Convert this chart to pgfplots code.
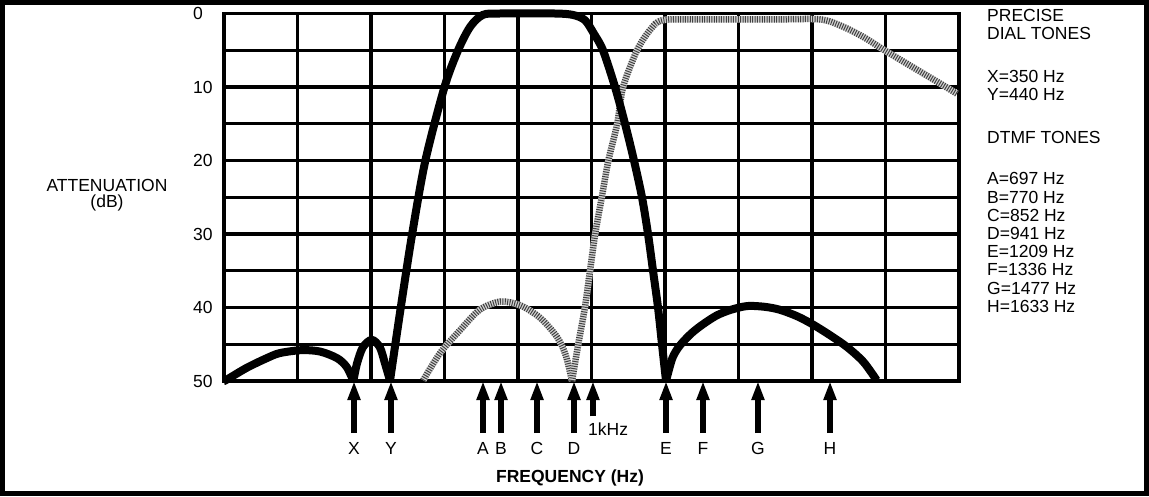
\documentclass[border=0pt]{standalone}
\usepackage{pgfplots}
\pgfplotsset{compat=1.18}
\usepackage{pgfplotstable}
\usepackage{fontspec}
\setmainfont{Liberation Sans}
\usetikzlibrary{arrows.meta}

\newcommand\lbl{\fontsize{17.5}{18}\selectfont}

% black filter curve, split at the notches
\pgfplotstableread{
x y
0.00 50
0.04 49.8
0.31 48.2
0.58 46.9
0.76 46.2
1.06 45.8
1.31 46.0
1.54 46.9
1.67 48.1
1.76 50
}\lobeA
\pgfplotstableread{
x y
1.76 50
1.81 47.6
1.89 45.4
2.01 44.4
2.12 45.4
2.19 47.6
2.26 50
}\lobeB
\pgfplotstableread{
x y
2.258 50
2.405 40
2.560 30
2.740 20
3.000 10
3.185 5
3.350 1.8
3.52 0.2
3.75 0
4.50 0
4.75 0.2
4.91 0.9
5.03 2.7
5.156 5
5.320 10
5.456 15
5.578 20
5.687 25
5.769 30
5.837 35
5.905 40
5.959 45
6.014 50
}\mainlobe
\pgfplotstableread{
x y
6.014 50
6.10 46.9
6.20 45.2
6.35 43.6
6.50 42.4
6.70 41.1
6.90 40.3
7.12 39.8
7.35 39.9
7.56 40.3
7.80 41.2
8.01 42.3
8.25 43.8
8.48 45.4
8.70 47.4
8.88 49.9
}\lobeC

% hatched curve
\pgfplotstableread{
x y
2.71 49.9
2.94 46.2
3.21 43.1
3.48 40.3
3.76 39.2
4.03 39.7
4.30 41.4
4.53 44.0
4.65 46.5
4.735 50
}\hatchA
\pgfplotstableread{
x y
4.735 50
4.82 45
4.91 40
4.98 35
5.05 30
5.14 25
5.23 20
5.35 15
5.43 10
5.62 5
5.80 2.2
5.97 0.9
6.50 0.8
7.50 0.8
8.11 0.8
8.40 1.7
8.70 3.2
8.97 4.9
9.37 7.3
9.74 9.5
9.97 10.9
}\hatchB

% tone markers (arrows under the axis)
\pgfplotstableread{
x y v
1.769 57.1 -7.1
2.272 57.1 -7.1
3.524 57.1 -7.1
3.769 57.1 -7.1
4.259 57.1 -7.1
4.762 57.1 -7.1
5.020 54.8 -4.8
6.014 57.1 -7.1
6.517 57.1 -7.1
7.265 57.1 -7.1
8.245 57.1 -7.1
}\tones

\begin{document}
\begin{tikzpicture}
\begin{axis}[
  scale only axis, width=735pt, height=367.5pt,
  xmin=0, xmax=10, ymin=0, ymax=50, y dir=reverse,
  clip=false,
  xtick={0,...,10}, xticklabels={},
  ytick={0,10,...,50}, minor ytick={5,15,...,45},
  grid=both,
  major grid style={black, line width=3.3pt},
  minor grid style={black, line width=3.3pt},
  axis line style={black, line width=3.3pt},
  major tick length=0pt, minor tick length=0pt,
  /pgf/number format/assume math mode=true,
  yticklabel style={font=\lbl, anchor=west, inner sep=0pt, xshift=-31pt},
  hatch/.style={gray!35, line width=6.5pt, smooth},
  hatchtop/.style={black!75, line width=6.5pt, smooth, dash pattern=on 1pt off 1.4pt},
  filt/.style={black, line width=8pt, smooth},
]
\addplot[hatch] table {\hatchA};
\addplot[hatchtop] table {\hatchA};
\addplot[hatch] table {\hatchB};
\addplot[hatchtop] table {\hatchB};

\addplot[filt] table {\lobeA};
\addplot[filt] table {\lobeB};
\addplot[filt] table {\mainlobe};
\addplot[filt] table {\lobeC};

\addplot[black, line width=6pt, -{Triangle[length=19pt,width=12pt]},
  quiver={u=0, v=\thisrow{v}}] table[x=x, y=y] {\tones};

\coordinate (o) at (axis cs:0,0);
\end{axis}

\begin{scope}[shift={(o)}, xshift=-224pt, yshift=13.5pt, x=1pt, y=-1pt]
  \draw[line width=5pt] (2.5,2.5) rectangle (1146.5,493.5);
  \node[font=\lbl, anchor=base, inner sep=0pt] at (107,192) {ATTENUATION};
  \node[font=\lbl, anchor=base, inner sep=0pt] at (107,208) {(dB)};
  \foreach \x/\t in {354/X, 391/Y, 483/A, 501/B, 537/C, 574/D, 666/E, 703/F, 758/G, 830/H}
    \node[font=\lbl, anchor=base, inner sep=0pt] at (\x,454) {\t};
  \node[font=\lbl, anchor=base west, inner sep=0pt] at (588,435) {1kHz};
  \node[font=\lbl\bfseries, anchor=base, inner sep=0pt] at (570,482) {FREQUENCY (Hz)};
  \foreach \y/\t in {22/PRECISE, 40/DIAL TONES, 83/X=350 Hz, 101/Y=440 Hz,
      144/DTMF TONES, 185/A=697 Hz, 203.2/B=770 Hz, 221.3/C=852 Hz,
      239.5/D=941 Hz, 257.7/E=1209 Hz, 275.8/F=1336 Hz, 294/G=1477 Hz, 312/H=1633 Hz}
    \node[font=\lbl, anchor=base west, inner sep=0pt] at (987,\y) {\t};
  \pgfresetboundingbox
  \path[use as bounding box] (0,0) rectangle (1149,496);
\end{scope}
\end{tikzpicture}
\end{document}
